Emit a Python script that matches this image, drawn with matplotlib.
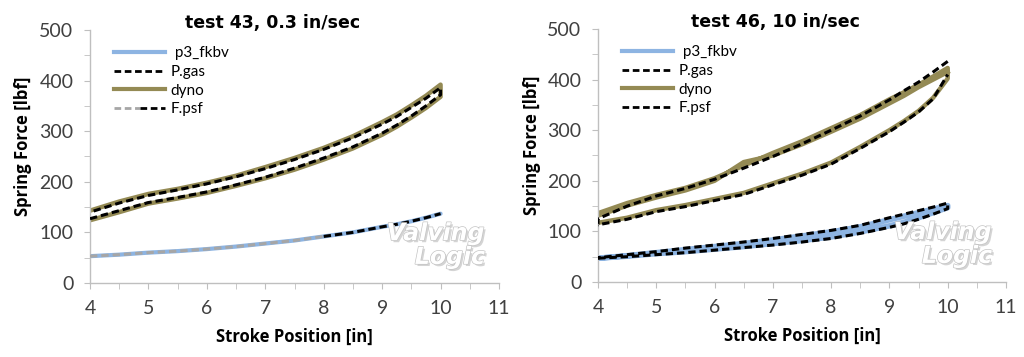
import numpy as np
import matplotlib
matplotlib.use("Agg")
import matplotlib.pyplot as plt
import matplotlib.patheffects as pe
from matplotlib.lines import Line2D
from matplotlib.legend_handler import HandlerTuple

# stroke positions [in]
stroke = [4, 4.5, 5, 5.5, 6, 6.5, 7, 7.5, 8, 8.5, 9, 9.25, 9.5, 9.75, 10]

# test 43, 0.3 in/sec  (spring force, lbf)
t43_dyno_up = [143, 161, 176, 186, 198, 212, 229, 247, 267, 290, 318, 333, 351, 370, 392]
t43_dyno_lo = [124, 140, 157, 167, 178, 192, 207, 224, 244, 266, 293, 309, 327, 346, 368]
t43_gas_up = [140, 158, 173, 184, 196, 210, 226, 244, 264, 287, 314, 329, 347, 365, 386]
t43_gas_lo = [127, 143, 159, 169, 180, 194, 209, 227, 247, 269, 296, 312, 330, 350, 372]
t43_fkbv = [53, 56, 60, 63, 67, 72, 78, 84, 92, 100, 111, 116, 122, 129, 137]

# test 46, 10 in/sec
t46_dyno_lo = [117, 127, 142, 152, 164, 176, 195, 214, 236, 267, 300, 318, 338, 364, 402]
t46_dyno_up = [136, 156, 172, 186, 205, 230, 255, 278, 304, 330, 361, 375, 390, 406, 423]
t46_dyno_up2 = [131, 151, 167, 181, 200, 237, 250, 272, 297, 323, 353, 368, 385, 400, 415]
t46_gas_up = [125, 150, 170, 185, 203, 225, 248, 273, 300, 328, 360, 378, 395, 415, 436]
t46_gas_lo = [113, 124, 139, 149, 161, 173, 192, 211, 233, 264, 297, 316, 336, 362, 410]
t46_psf_up = [48, 54, 60, 67, 73, 79, 86, 94, 102, 112, 127, 134, 141, 148, 156]
t46_psf_lo = [47, 50, 54, 58, 63, 68, 73, 79, 86, 96, 108, 115, 124, 134, 145]
t46_fkbv_up = [47, 52, 58, 64, 70, 76, 83, 91, 99, 109, 123, 130, 137, 144, 151]
t46_fkbv_lo = [47, 51, 56, 60, 65, 70, 76, 82, 89, 99, 111, 118, 127, 137, 147]

titles = ["test 43, 0.3 in/sec", "test 46, 10 in/sec"]
xticks = [4, 5, 6, 7, 8, 9, 10, 11]
yticks = [0, 100, 200, 300, 400, 500]

OLIVE = "#948A54"
BLUE = "#8DB4E2"
GRAY = "#A6A6A6"
DASH = (2.4, 1.3)

x = np.array(stroke)
xr = x[::-1]

fig = plt.figure(figsize=(10.24, 3.57), dpi=100)
ax1 = fig.add_axes([0.0879, 0.2073, 0.3994, 0.7087])
ax2 = fig.add_axes([0.584, 0.2101, 0.3984, 0.7087])


def style(ax):
    ax.set_xlim(4, 11)
    ax.set_ylim(0, 500)
    ax.set_xticks(xticks)
    ax.set_yticks(yticks)
    ax.set_xticks(np.arange(4, 11.01, 0.5), minor=True)
    ax.set_yticks(np.arange(0, 501, 50), minor=True)
    for s in ["top", "right"]:
        ax.spines[s].set_visible(False)
    for s in ["left", "bottom"]:
        ax.spines[s].set_color("#BFBFBF")
        ax.spines[s].set_linewidth(1.0)
    ax.tick_params(which="both", direction="out", length=4, color="#BFBFBF",
                   labelcolor="#404040", labelsize=14, labelfontfamily="Lato")
    ax.tick_params(axis="x", which="major", pad=8)
    ax.tick_params(axis="y", which="major", pad=8)
    ax.set_xlabel("Stroke Position [in]", fontsize=12, fontweight="bold",
                  family="Open Sans", va="center")
    ax.set_ylabel("Spring Force [lbf]", fontsize=12, fontweight="bold",
                  family="Open Sans", va="center")
    ax.xaxis.set_label_coords(0.5, -0.213)
    ax.yaxis.set_label_coords(-0.163, 0.54)


def watermark(ax):
    fx = [pe.withSimplePatchShadow(offset=(1.5, -1.5), shadow_rgbFace="#D0D0D0", alpha=0.9),
          pe.Stroke(linewidth=1.0, foreground="#C4C4C4"), pe.Normal()]
    ax.text(0.845, 0.197, "Valving", transform=ax.transAxes, ha="center", va="center",
            fontsize=17, fontweight="bold", style="italic", family="DejaVu Sans",
            color="white", path_effects=fx)
    ax.text(0.88, 0.103, "Logic", transform=ax.transAxes, ha="center", va="center",
            fontsize=17, fontweight="bold", style="italic", family="DejaVu Sans",
            color="white", path_effects=fx)


# ---- left panel: test 43
ax = ax1
ax.plot(x, t43_fkbv, color=BLUE, lw=3, solid_capstyle="round", zorder=2)
ax.plot(x[:9], t43_fkbv[:9], color=GRAY, lw=2.2, dashes=DASH, zorder=3)
ax.plot(x[8:], t43_fkbv[8:], color="black", lw=2.2, dashes=DASH, zorder=3)
ax.plot(np.r_[x, xr], np.r_[t43_dyno_lo, t43_dyno_up[::-1]], color=OLIVE, lw=3.2,
        solid_joinstyle="round", zorder=2)
ax.plot(np.r_[x, xr], np.r_[t43_gas_lo, t43_gas_up[::-1]], color="black", lw=2.2,
        dashes=DASH, zorder=4)
style(ax)
watermark(ax)

h_fkbv = Line2D([], [], color=BLUE, lw=3)
h_gas = Line2D([], [], color="black", lw=2, dashes=DASH)
h_dyno = Line2D([], [], color=OLIVE, lw=3)
h_psf1 = (Line2D([], [], color=GRAY, lw=2, dashes=DASH),
          Line2D([], [], color="black", lw=2, dashes=DASH))
ax.legend([h_fkbv, h_gas, h_dyno, h_psf1], [" p3_fkbv", "P.gas", "dyno", "F.psf"],
          handler_map={tuple: HandlerTuple(ndivide=None, pad=0.0)},
          loc="upper left", bbox_to_anchor=(0.04, 0.965), frameon=False, borderpad=0,
          handlelength=3.35, handletextpad=0.35, labelspacing=0.3,
          prop={"family": "Lato", "size": 11})

# ---- right panel: test 46
ax = ax2
ax.plot(np.r_[x, xr], np.r_[t46_fkbv_lo, t46_fkbv_up[::-1]], color=BLUE, lw=4, zorder=2)
ax.plot(np.r_[x, xr], np.r_[t46_psf_lo, t46_psf_up[::-1]], color="black", lw=2.2,
        dashes=DASH, zorder=3)
ax.plot(np.r_[x, xr, x], np.r_[t46_dyno_lo, t46_dyno_up[::-1], t46_dyno_up2], color=OLIVE,
        lw=3.2, solid_joinstyle="round", zorder=2)
ax.plot(np.r_[xr, x], np.r_[t46_gas_up[::-1], t46_gas_lo], color="black", lw=2.2,
        dashes=DASH, zorder=3)
style(ax)
watermark(ax)

h_psf2 = Line2D([], [], color="black", lw=2, dashes=DASH)
ax.legend([h_fkbv, h_gas, h_dyno, h_psf2], [" p3_fkbv", "P.gas", "dyno", "F.psf"],
          loc="upper left", bbox_to_anchor=(0.04, 0.965), frameon=False, borderpad=0,
          handlelength=3.35, handletextpad=0.35, labelspacing=0.3,
          prop={"family": "Lato", "size": 11})

fig.text(0.266, 0.935, titles[0], ha="center", va="center", fontsize=12.5,
         fontweight="bold", family="DejaVu Sans")
fig.text(0.757, 0.938, titles[1], ha="center", va="center", fontsize=12.5,
         fontweight="bold", family="DejaVu Sans")

fig.savefig("out.png", dpi=100, facecolor="white")
